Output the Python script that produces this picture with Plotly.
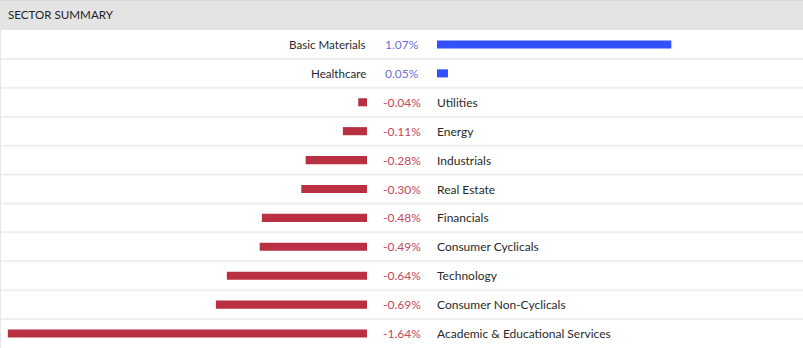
import plotly.graph_objects as go

title = "SECTOR SUMMARY"
sectors = ["Basic Materials", "Healthcare", "Utilities", "Energy", "Industrials",
           "Real Estate", "Financials", "Consumer Cyclicals", "Technology",
           "Consumer Non-Cyclicals", "Academic & Educational Services"]
changes = [1.07, 0.05, -0.04, -0.11, -0.28, -0.30, -0.48, -0.49, -0.64, -0.69, -1.64]

W, H = 803, 348
TOP = 30
PX_PER_PCT = 219.0
NEG_RIGHT = 367
POS_LEFT = 437
VAL_CENTER = 402

BLUE = "#3350ff"
RED = "#b83042"
POS_TXT = "#6e6ee0"
NEG_TXT = "#c4485a"
NAME_TXT = "#2a2a2a"
FONT = "Lato"

rows = list(range(len(sectors)))
neg_rows = [r for r in rows if changes[r] < 0]
pos_rows = [r for r in rows if changes[r] >= 0]

fig = go.Figure()
fig.add_trace(go.Bar(
    x=[changes[r] for r in neg_rows], y=neg_rows, orientation="h",
    marker=dict(color=RED, line=dict(width=0)), width=0.28,
    xaxis="x", yaxis="y", hoverinfo="skip", showlegend=False))
fig.add_trace(go.Bar(
    x=[changes[r] for r in pos_rows], y=pos_rows, orientation="h",
    marker=dict(color=BLUE, line=dict(width=0)), width=0.28,
    xaxis="x2", yaxis="y", hoverinfo="skip", showlegend=False))

plot_h = H - TOP
shapes = []
annotations = []
# header band
shapes.append(dict(type="rect", xref="paper", yref="paper",
                   x0=0, x1=1, y0=1, y1=1 + (TOP - 1) / plot_h,
                   fillcolor="#e4e4e4", line=dict(width=0), layer="below"))
shapes.append(dict(type="line", xref="paper", yref="paper",
                   x0=0, x1=1, y0=1 + (TOP - 0.5) / plot_h, y1=1 + (TOP - 0.5) / plot_h,
                   line=dict(color="#d9d9d9", width=1)))
# left border
shapes.append(dict(type="line", xref="paper", yref="paper",
                   x0=0.5 / W, x1=0.5 / W, y0=0, y1=1,
                   line=dict(color="#e6e6e6", width=1)))
# row separators
for r in rows[:-1]:
    shapes.append(dict(type="line", xref="paper", yref="y",
                       x0=0, x1=1, y0=r + 0.5, y1=r + 0.5,
                       line=dict(color="#eeeeee", width=2), layer="below"))

annotations.append(dict(text=title, xref="paper", yref="paper",
                        x=6 / W, y=1 + (TOP - 15) / plot_h, xanchor="left", yanchor="middle",
                        showarrow=False, font=dict(family=FONT, size=11.6, color="#222222")))

for r in rows:
    v = changes[r]
    annotations.append(dict(text=f"{v:.2f}%", xref="paper", yref="y",
                            x=VAL_CENTER / W, y=r, xanchor="center", yanchor="middle",
                            showarrow=False,
                            font=dict(family=FONT, size=12, color=POS_TXT if v >= 0 else NEG_TXT)))
    if v >= 0:
        annotations.append(dict(text=sectors[r], xref="paper", yref="y",
                                x=(NEG_RIGHT + 1) / W, y=r, xanchor="right", yanchor="middle",
                                showarrow=False, font=dict(family=FONT, size=11.6, color=NAME_TXT)))
    else:
        annotations.append(dict(text=sectors[r], xref="paper", yref="y",
                                x=(POS_LEFT - 2) / W, y=r, xanchor="left", yanchor="middle",
                                showarrow=False, font=dict(family=FONT, size=12, color=NAME_TXT)))

fig.update_layout(
    width=W, height=H,
    margin=dict(l=0, r=0, t=TOP, b=0, pad=0),
    paper_bgcolor="white", plot_bgcolor="white",
    barmode="overlay",
    xaxis=dict(domain=[0, NEG_RIGHT / W], range=[-NEG_RIGHT / PX_PER_PCT, 0],
               visible=False, fixedrange=True),
    xaxis2=dict(domain=[POS_LEFT / W, 1], range=[0, (W - POS_LEFT) / PX_PER_PCT],
                visible=False, fixedrange=True),
    yaxis=dict(range=[len(sectors) - 0.5, -0.5], visible=False, fixedrange=True),
    shapes=shapes, annotations=annotations,
    hovermode=False,
)

fig.write_html("out.html", config=dict(displayModeBar=False))
